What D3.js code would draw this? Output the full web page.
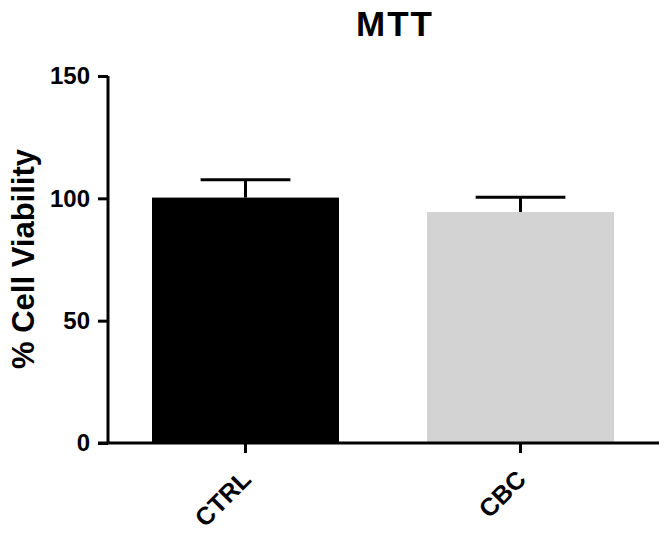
<!DOCTYPE html>
<html>
<head>
<meta charset="utf-8">
<script src="https://cdn.jsdelivr.net/npm/d3@7"></script>
<style>
  html, body { margin: 0; padding: 0; background: #fff; }
  svg { display: block; }
  text { font-family: "Liberation Sans", Arial, Helvetica, sans-serif; font-weight: bold; fill: #000; }
</style>
</head>
<body>
<svg id="chart" width="669" height="534"></svg>
<script>
// data
const groups = ['CTRL', 'CBC'];
const means = [100.3, 94.4];
const errors = [7.3, 6.0];
const barColors = ['#000000', '#d3d3d3'];
const yTicks = [0, 50, 100, 150];

const svg = d3.select('#chart');

const x = d3.scaleBand()
    .domain(groups)
    .range([108, 658])
    .paddingInner(0.32)
    .paddingOuter(0.16);

const y = d3.scaleLinear()
    .domain([0, 150])
    .range([443, 76]);

const rows = groups.map((g, i) => ({ name: g, mean: means[i], err: errors[i], color: barColors[i] }));

// bars
svg.append('g')
    .selectAll('rect')
    .data(rows)
    .join('rect')
    .attr('x', d => x(d.name))
    .attr('y', d => y(d.mean))
    .attr('width', x.bandwidth())
    .attr('height', d => y(0) - y(d.mean))
    .attr('fill', d => d.color);

// error bars (upper only)
const capHalf = x.bandwidth() * 0.24;
const eb = svg.append('g')
    .attr('stroke', '#000')
    .attr('stroke-width', 3)
    .attr('fill', 'none');

eb.selectAll('line.stem')
    .data(rows)
    .join('line')
    .attr('class', 'stem')
    .attr('x1', d => x(d.name) + x.bandwidth() / 2)
    .attr('x2', d => x(d.name) + x.bandwidth() / 2)
    .attr('y1', d => y(d.mean))
    .attr('y2', d => y(d.mean + d.err));

eb.selectAll('line.cap')
    .data(rows)
    .join('line')
    .attr('class', 'cap')
    .attr('x1', d => x(d.name) + x.bandwidth() / 2 - capHalf)
    .attr('x2', d => x(d.name) + x.bandwidth() / 2 + capHalf)
    .attr('y1', d => y(d.mean + d.err))
    .attr('y2', d => y(d.mean + d.err));

// y axis
const yAxis = svg.append('g')
    .attr('transform', 'translate(108,0)')
    .call(d3.axisLeft(y).tickValues(yTicks).tickSize(10).tickSizeOuter(0).tickPadding(8));

yAxis.select('.domain').attr('stroke-width', 3).attr('d', `M0,${y(150)}V${y(0)}`);
yAxis.selectAll('.tick line').attr('stroke-width', 3);
yAxis.selectAll('.tick text')
    .style('font-size', '24px')
    .style('font-family', '"Liberation Sans", Arial, sans-serif')
    .style('font-weight', 'bold');

// x axis
const xAxis = svg.append('g')
    .attr('transform', `translate(0,${y(0)})`)
    .call(d3.axisBottom(x).tickSize(10).tickSizeOuter(0).tickPadding(0));

xAxis.select('.domain').attr('stroke-width', 3).attr('d', 'M98,0H659');
xAxis.selectAll('.tick line').attr('stroke-width', 3);
xAxis.selectAll('.tick text')
    .style('font-size', '25px')
    .style('font-family', '"Liberation Sans", Arial, sans-serif')
    .style('font-weight', 'bold')
    .attr('text-anchor', 'end')
    .attr('dy', null)
    .attr('y', 0)
    .attr('transform', 'translate(7,38) rotate(-45)');

// y axis title
svg.append('text')
    .attr('transform', `translate(34,${(148 + 370) / 2}) rotate(-90)`)
    .attr('text-anchor', 'middle')
    .style('font-size', '31px')
    .text('% Cell Viability');

// chart title
svg.append('text')
    .attr('x', 395)
    .attr('y', 36)
    .attr('text-anchor', 'middle')
    .style('font-size', '35px')
    .style('letter-spacing', '2px')
    .text('MTT');
</script>
</body>
</html>
